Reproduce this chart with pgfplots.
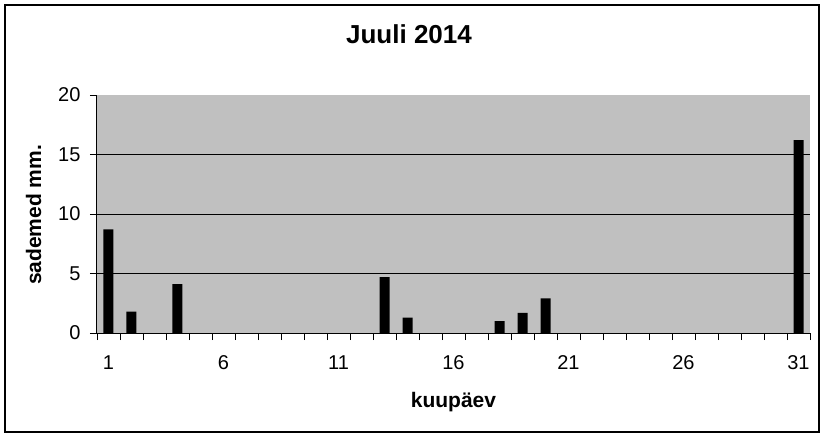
\documentclass[border=0pt]{standalone}
\usepackage{pgfplots}
\pgfplotsset{compat=1.18}
\usepackage{fontspec}
\setmainfont{Liberation Sans}
\definecolor{plotgray}{RGB}{192,192,192}
\begin{document}
\begin{tikzpicture}
\path[fill=white] (0pt,0pt) rectangle (825pt,437pt);
\draw[black, line width=1.2pt] (5pt,5pt) rectangle (819pt,432pt);
\begin{axis}[
  at={(97pt,104pt)}, anchor=south west,
  scale only axis, width=713pt, height=238pt,
  xmin=0.5, xmax=31.5, ymin=0, ymax=20,
  axis x line*=bottom, axis y line*=left,
  axis line style={black, line width=1pt, -},
  axis background/.style={fill=plotgray},
  ybar, bar width=10pt,
  xtick={1,6,11,16,21,26,31},
  minor xtick={0.5,1.5,...,31.5},
  major x tick style={draw=none},
  minor x tick style={black, line width=0.8pt},
  minor tick length=7pt,
  ytick={0,5,10,15},
  extra y ticks={20},
  extra y tick style={ymajorgrids=false},
  major y tick style={black, line width=0.8pt},
  major tick length=7pt,
  tick align=outside,
  ymajorgrids,
  major grid style={black, line width=0.8pt},
  /pgf/number format/assume math mode=true,
  ticklabel style={font=\fontsize{20}{24}\selectfont},
  yticklabel style={xshift=-6pt},
  xticklabel style={yshift=-12pt},
  title={Juuli 2014},
  title style={at={(axis description cs:0.4376,1.23)}, anchor=center, font=\fontsize{26}{30}\selectfont\bfseries},
  xlabel={kuupäev},
  xlabel style={at={(axis description cs:0.5,-0.29)}, anchor=center, font=\fontsize{21}{25}\selectfont\bfseries},
  ylabel={sademed mm.},
  ylabel style={at={(axis description cs:-0.089,0.496)}, anchor=center, rotate=0, font=\fontsize{21}{25}\selectfont\bfseries},
]
\addplot[fill=black, draw=none] coordinates {
(1,8.7) (2,1.8) (4,4.1) (13,4.7) (14,1.3) (18,1.0) (19,1.7) (20,2.9) (31,16.2)
};
\end{axis}
\end{tikzpicture}
\end{document}
